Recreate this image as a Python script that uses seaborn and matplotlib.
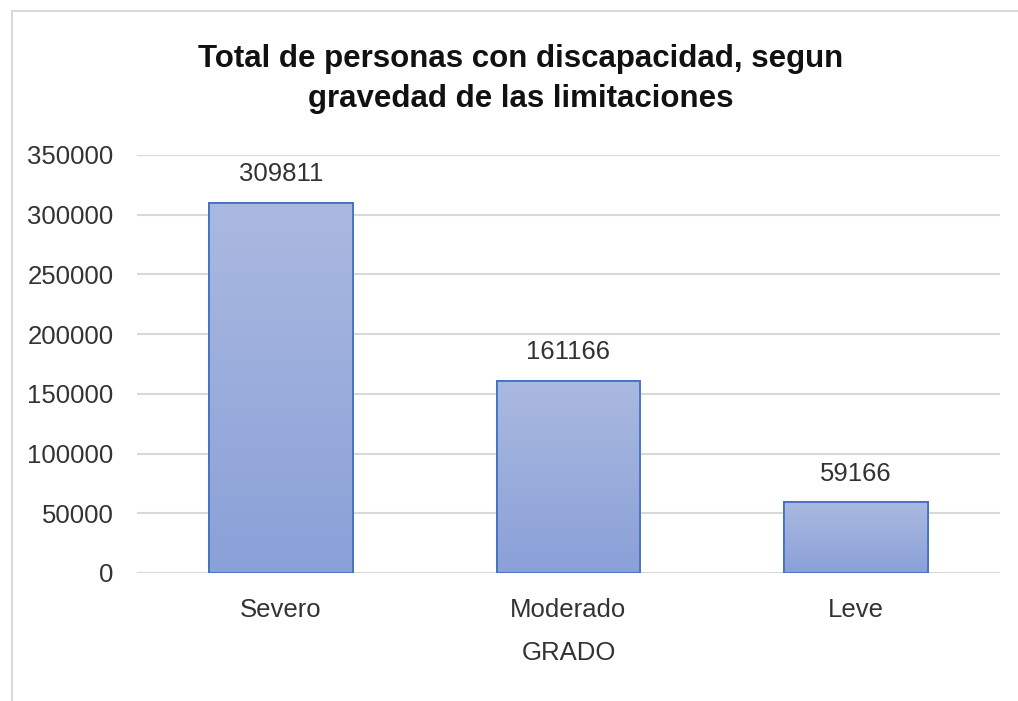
import numpy as np
import pandas as pd
import matplotlib
matplotlib.use("Agg")
import matplotlib.pyplot as plt
import seaborn as sns
from matplotlib.colors import LinearSegmentedColormap
from matplotlib.patches import Rectangle

categories = ["Severo", "Moderado", "Leve"]
values = [309811, 161166, 59166]
yticks = [0, 50000, 100000, 150000, 200000, 250000, 300000, 350000]
title = "Total de personas con discapacidad, segun\ngravedad de las limitaciones"
xlabel = "GRADO"

sns.set_theme(style="white")
plt.rcParams['font.family'] = ['Liberation Sans', 'DejaVu Sans']

df = pd.DataFrame({"grado": categories, "total": values})

fig = plt.figure(figsize=(10.18, 7.01), dpi=100)
ax = fig.add_axes([137/1018, 1-573/701, (1000-137)/1018, (573-155)/701])

sns.barplot(data=df, x="grado", y="total", ax=ax, color="#9AACDC",
            width=0.5, edgecolor="#4472C4", linewidth=1.3, zorder=3)

FS = 18.5
ax.set_ylim(0, 350000)
ax.set_xlim(-0.5, 2.5)
ax.set_yticks(yticks)
ax.set_yticklabels([str(t) for t in yticks], fontsize=FS, color="#333333")
ax.tick_params(axis="x", labelsize=FS, colors="#333333", pad=18, length=0)
ax.tick_params(axis="y", pad=17, length=0)
for s in ax.spines.values():
    s.set_visible(False)
ax.yaxis.grid(True, color="#D9D9D9", linewidth=1.5, zorder=0)
ax.set_axisbelow(True)
ax.set_xlabel(xlabel, fontsize=FS, color="#333333", labelpad=14)
ax.set_ylabel("")

# gradient fill on bars
cmap = LinearSegmentedColormap.from_list("g", ["#8AA0D8", "#AAB9E0"])
grad = np.linspace(0, 1, 256).reshape(-1, 1)
for p in ax.patches:
    x0, y0 = p.get_x(), p.get_y()
    w, h = p.get_width(), p.get_height()
    im = ax.imshow(grad, extent=[x0, x0 + w, y0, y0 + h], origin="lower",
                   aspect="auto", cmap=cmap, zorder=3.5)
    im.set_clip_path(p)
    border = Rectangle((x0, y0), w, h, fill=False, edgecolor="#4472C4",
                       linewidth=1.3, zorder=4)
    ax.add_patch(border)
ax.set_xlim(-0.5, 2.5)
ax.set_ylim(0, 350000)

for i, v in enumerate(values):
    ax.annotate(str(v), xy=(i, v), xytext=(0, 12), textcoords="offset points",
                ha="center", va="bottom", fontsize=FS, color="#333333")

fig.text(521/1018, 1-79/701, title, ha="center", va="center", fontsize=22.5,
         fontweight="bold", color="#111111", linespacing=1.45)

# chart frame lines (left and top)
fig.add_artist(plt.Line2D([12/1018, 12/1018], [0, 1-11/701], color="#D9D9D9",
                          linewidth=1.5, transform=fig.transFigure))
fig.add_artist(plt.Line2D([12/1018, 1], [1-11/701, 1-11/701], color="#D9D9D9",
                          linewidth=1.5, transform=fig.transFigure))

fig.savefig("out.png", dpi=100)
